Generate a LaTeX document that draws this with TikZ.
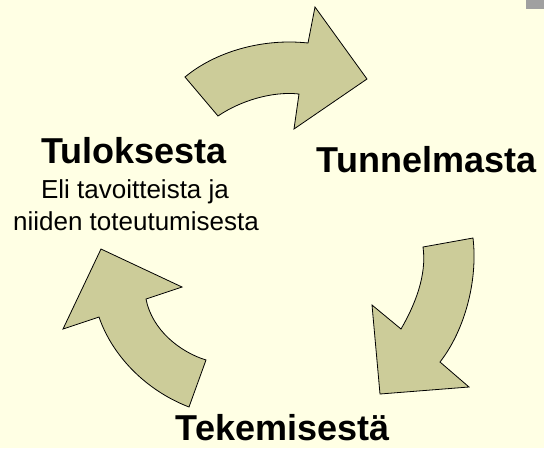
\documentclass[tikz,border=0pt]{standalone}
\usepackage{fontspec}
\setmainfont{Liberation Sans}
\usepackage{tikz}

\definecolor{paper}{RGB}{255,255,228}
\definecolor{khaki}{RGB}{204,204,153}
\definecolor{corner}{RGB}{160,160,160}

\begin{document}
\begin{tikzpicture}[x=1pt,y=1pt]
            \tikzstyle{every node}+=[inner sep=0pt]
            \tikzstyle{cyclearrow}=[draw=black, fill=khaki, line width=0.8pt, line join=miter]
            \tikzstyle{title}=[anchor=base, font=\fontsize{36}{43}\selectfont\bfseries]
            \tikzstyle{note}=[anchor=base, font=\fontsize{26}{31}\selectfont]
            \useasboundingbox (0,0) rectangle (544,-448);
            \fill [paper] (0,0) rectangle (544,-448);
            \fill [corner] (526,0) rectangle (544,-9);
            % top arrow
            \draw [cyclearrow] (185,-77) .. controls (215,-52) and (262,-38) .. (308,-43)
              -- (315,-7) -- (367,-79) -- (294,-129) -- (299,-94)
              .. controls (272,-91) and (240,-101) .. (218,-116) -- cycle;
            % right arrow
            \draw [cyclearrow] (473,-238) .. controls (478,-280) and (465,-330) .. (440,-362)
              -- (469,-387) -- (380,-394) -- (372,-305) -- (401,-329)
              .. controls (415,-305) and (427,-275) .. (423,-247) -- cycle;
            % left arrow
            \draw [cyclearrow] (189,-407) -- (206,-360)
              .. controls (180,-352) and (152,-330) .. (146,-299)
              -- (182,-287) -- (101,-249) -- (63,-329) -- (99,-317)
              .. controls (112,-355) and (145,-390) .. (189,-407) -- cycle;
            \node [title] (tulos) at (134,-163) {Tuloksesta};
            \node [note] (tavoite) at (135,-198) {Eli tavoitteista ja};
            \node [note] (toteutus) at (136,-230) {niiden toteutumisesta};
            \node [title] (tunnelma) at (426.5,-172) {Tunnelmasta};
            \node [title] (tekeminen) at (282.5,-440) {Tekemisestä};
\end{tikzpicture}
\end{document}
